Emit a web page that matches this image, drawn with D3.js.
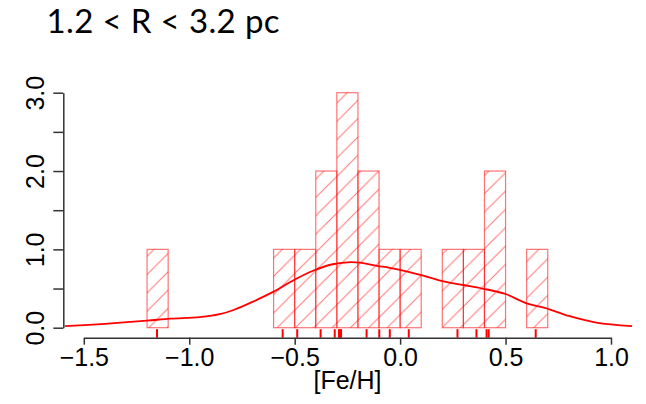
<!DOCTYPE html>
<meta charset="utf-8">
<title>Fe/H histogram</title>
<style>
  body { margin: 0; background: #fff; }
  svg text { font-family: "Liberation Sans", Arial, sans-serif; }
</style>
<div id="viz"></div>
<script src="https://cdnjs.cloudflare.com/ajax/libs/d3/7.8.5/d3.min.js"></script>
<script>

// histogram bins (left edges, width 0.1) and counts
var binStarts = [-1.2, -1.1, -1.0, -0.9, -0.8, -0.7, -0.6, -0.5, -0.4, -0.3,
                 -0.2, -0.1, 0.0, 0.1, 0.2, 0.3, 0.4, 0.5, 0.6];
var binWidth = 0.1;
var counts = [1, 0, 0, 0, 0, 0, 1, 1, 2, 3, 2, 1, 1, 0, 1, 1, 2, 0, 1];

// individual [Fe/H] values (rug)
var rugValues = [-1.153, -0.557, -0.488, -0.377, -0.31, -0.29, -0.285, -0.28,
                 -0.159, -0.099, -0.049, 0.041, 0.272, 0.362, 0.41, 0.42, 0.643];

// density curve
var densX = [-1.59, -1.4, -1.2, -1.09, -0.95, -0.85, -0.79, -0.70, -0.60, -0.51,
             -0.41, -0.32, -0.25, -0.19, -0.11, -0.05, 0.03, 0.11, 0.2, 0.3,
             0.39, 0.5, 0.6, 0.69, 0.8, 0.93, 1.1];
var densY = [0.02, 0.05, 0.09, 0.115, 0.135, 0.175, 0.226, 0.33, 0.46, 0.60,
             0.73, 0.81, 0.835, 0.83, 0.79, 0.765, 0.72, 0.665, 0.595, 0.545,
             0.50, 0.43, 0.31, 0.25, 0.15, 0.065, 0.02];

var xTicks = [-1.5, -1.0, -0.5, 0.0, 0.5, 1.0];
var yTicks = [0, 0.5, 1, 1.5, 2, 2.5, 3];
var yLabels = ["0.0", "", "1.0", "", "2.0", "", "3.0"];

var title = "1.2 < R < 3.2 pc";
var xTitle = "[Fe/H]";

var width = 646, height = 404;

var svg = d3.select("#viz").append("svg")
    .attr("width", width)
    .attr("height", height);

var x = d3.scaleLinear().domain([-1.5, 1.0]).range([83.8, 611]);
var y = d3.scaleLinear().domain([0, 3]).range([327.7, 92.7]);
var axisY = 337.7;

// hatch pattern, lines continuous across bars
var sp = 18.33;
svg.append("defs").append("pattern")
    .attr("id", "hatch")
    .attr("patternUnits", "userSpaceOnUse")
    .attr("width", sp).attr("height", sp)
  .append("path")
    .attr("d", "M-1,1 l2,-2 M0," + sp + " l" + sp + "," + (-sp) + " M" + (sp - 1) + "," + (sp + 1) + " l2,-2")
    .attr("stroke", "red")
    .attr("stroke-opacity", 0.55)
    .attr("stroke-width", 1);

// title
svg.append("text")
    .attr("x", 46.5)
    .attr("y", 33.3)
    .attr("textLength", 233)
    .attr("lengthAdjust", "spacing")
    .style("font-family", "Lato, 'Open Sans', sans-serif")
    .style("font-size", "33px")
    .attr("fill", "#000")
    .text(title);

// bars
svg.append("g").selectAll("rect")
  .data(binStarts)
  .join("rect")
    .attr("x", function(d) { return x(d); })
    .attr("y", function(d, i) { return y(counts[i]); })
    .attr("width", function(d) { return x(d + binWidth) - x(d); })
    .attr("height", function(d, i) { return y(0) - y(counts[i]); })
    .attr("fill", "url(#hatch)")
    .attr("stroke", "red")
    .attr("stroke-opacity", 0.55)
    .attr("stroke-width", 1.2);

// density curve
var line = d3.line()
    .x(function(d) { return x(d[0]); })
    .y(function(d) { return y(d[1]); })
    .curve(d3.curveCatmullRom);

svg.append("path")
    .datum(d3.zip(densX, densY))
    .attr("d", line)
    .attr("fill", "none")
    .attr("stroke", "red")
    .attr("stroke-width", 1.8);

// rug
svg.append("g").selectAll("line")
  .data(rugValues)
  .join("line")
    .attr("x1", function(d) { return x(d); })
    .attr("x2", function(d) { return x(d); })
    .attr("y1", y(0) + 1.5)
    .attr("y2", axisY)
    .attr("stroke", "red")
    .attr("stroke-width", 2);

// x axis
var gx = svg.append("g")
    .attr("transform", "translate(0," + axisY + ")")
    .call(d3.axisBottom(x).tickValues(xTicks).tickSize(7).tickSizeOuter(0)
      .tickFormat(d3.format(".1f")));
gx.selectAll("text")
    .attr("y", 28.3).attr("dy", 0)
    .style("font-size", "25px").attr("fill", "#000");

// y axis
var gy = svg.append("g")
    .attr("transform", "translate(63.3,0)")
    .call(d3.axisLeft(y).tickValues(yTicks).tickSize(10).tickSizeOuter(0)
      .tickFormat(function(d, i) { return yLabels[i]; }));
gy.selectAll("text")
    .attr("x", 0).attr("dy", 0)
    .attr("text-anchor", "middle")
    .attr("transform", "translate(-19.8,0) rotate(-90)")
    .style("font-size", "25px").attr("fill", "#000");

svg.selectAll(".domain, .tick line")
    .attr("stroke", "#333")
    .attr("stroke-width", 1.5);

// x label
svg.append("text")
    .attr("x", 347.5)
    .attr("y", 389)
    .attr("text-anchor", "middle")
    .style("font-size", "25px")
    .text(xTitle);

</script>
